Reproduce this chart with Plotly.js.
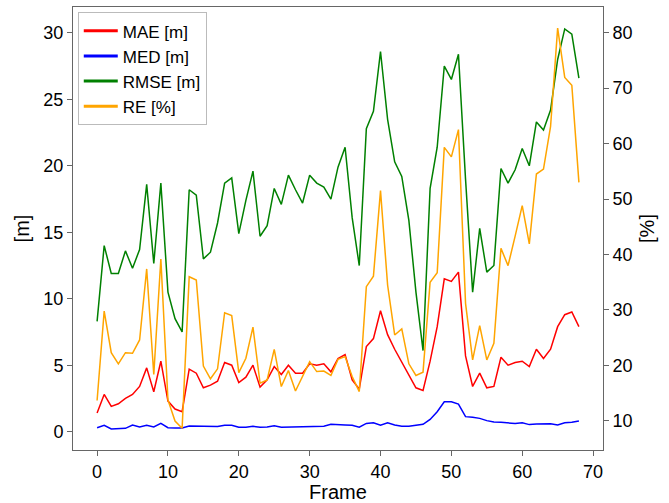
<!DOCTYPE html>
<html>
<head>
<meta charset="utf-8">
<script src="https://cdn.plot.ly/plotly-3.0.1.min.js"></script>
<style>html,body{margin:0;padding:0;background:#fff;}#chart{width:669px;height:503px;}</style>
</head>
<body>
<div id="chart"></div>
<script>
const MAE = [1.4, 2.8, 1.9, 2.1, 2.5, 2.8, 3.4, 4.8, 3.0, 5.3, 2.3, 1.7, 1.5, 4.7, 4.4, 3.3, 3.5, 3.8, 5.2, 5.0,
  3.7, 4.1, 5.0, 3.35, 3.9, 4.9, 4.3, 5.0, 4.4, 4.4, 5.1, 5.0, 5.1, 4.5, 5.5, 5.8, 3.9, 3.2, 6.4, 7.0,
  9.1, 7.3, 6.2, 5.2, 4.3, 3.3, 3.1, 5.3, 7.9, 11.5, 11.3, 12.0, 5.7, 3.4, 4.4, 3.3, 3.4, 5.6, 5.0, 5.2,
  5.3, 4.9, 6.2, 5.5, 6.2, 7.9, 8.8, 9.0, 7.9];
const MED = [0.3, 0.48, 0.2, 0.22, 0.25, 0.5, 0.35, 0.48, 0.35, 0.63, 0.3, 0.28, 0.28, 0.43, 0.42, 0.4, 0.38, 0.38, 0.48, 0.48,
  0.33, 0.33, 0.4, 0.33, 0.35, 0.45, 0.33, 0.35, 0.35, 0.35, 0.38, 0.38, 0.4, 0.55, 0.55, 0.5, 0.48, 0.33, 0.62, 0.67,
  0.48, 0.67, 0.5, 0.4, 0.4, 0.45, 0.55, 0.92, 1.5, 2.25, 2.25, 2.08, 1.13, 1.08, 1.0, 0.83, 0.73, 0.7, 0.65, 0.62,
  0.67, 0.53, 0.58, 0.58, 0.6, 0.5, 0.67, 0.7, 0.8];
const RMSE = [8.3, 14.0, 11.9, 11.9, 13.6, 12.3, 13.7, 18.6, 12.65, 18.7, 10.5, 8.5, 7.5, 18.2, 17.8, 13.0, 13.5, 15.7, 18.7, 19.1,
  14.9, 17.4, 19.6, 14.7, 15.5, 18.3, 17.1, 19.3, 18.2, 17.2, 19.3, 18.7, 18.4, 17.5, 19.9, 21.4, 16.1, 12.5, 22.8, 24.1,
  28.6, 23.5, 20.3, 19.2, 15.9, 10.5, 6.1, 18.3, 21.4, 27.5, 26.5, 28.4, 19.0, 10.5, 15.3, 12.0, 12.5, 19.8, 18.7, 19.7,
  21.3, 20.0, 23.3, 22.7, 24.2, 28.0, 30.3, 29.9, 26.6];
const RE = [13.7, 29.8, 22.3, 20.3, 22.3, 22.2, 24.6, 37.4, 18.4, 39.2, 13.8, 10.0, 8.7, 36.0, 35.4, 19.9, 17.6, 19.4, 29.5, 29.0,
  18.7, 21.3, 26.9, 16.8, 17.4, 22.9, 16.2, 19.1, 15.4, 18.0, 20.7, 18.9, 19.0, 18.2, 21.1, 21.6, 18.0, 15.3, 34.2, 36.1,
  51.5, 34.5, 25.5, 26.6, 20.3, 18.2, 18.8, 35.0, 36.7, 59.3, 57.6, 62.5, 31.2, 21.0, 27.2, 21.0, 24.0, 41.1, 38.0, 43.3,
  48.8, 41.9, 54.5, 55.4, 63.1, 80.8, 71.9, 70.5, 53.0];
const names = ['MAE [m]', 'MED [m]', 'RMSE [m]', 'RE [%]'];
const colors = ['#ff0000', '#0000ff', '#008000', '#ffa500'];
const frames = MAE.map((_, i) => i);

const FONT = "Liberation Sans, Arial, Helvetica, sans-serif";
const LW = 1.5;
const series = [MAE, MED, RMSE, RE];
const traces = series.map((s, i) => ({
  x: frames, y: s, name: names[i], type: 'scatter', mode: 'lines', showlegend: false,
  yaxis: i === 3 ? 'y2' : 'y', line: {color: colors[i], width: LW}
}));
// legend entries with thicker sample lines (as in the reference legend)
names.forEach((n, i) => traces.push({
  x: [null], y: [null], name: n, type: 'scatter', mode: 'lines', showlegend: true,
  yaxis: i === 3 ? 'y2' : 'y', line: {color: colors[i], width: 3}
}));
const axisCommon = {
  showgrid: false, zeroline: false, showline: true, linecolor: '#666', linewidth: 1,
  ticks: 'outside', ticklen: 5, tickcolor: '#666', tickfont: {family: FONT, size: 18, color: '#000'}
};
const layout = {
  width: 669, height: 503,
  margin: {l: 73, r: 66, t: 7, b: 53, pad: 0},
  paper_bgcolor: '#fff', plot_bgcolor: '#fff',
  font: {family: FONT, color: '#000'},
  showlegend: true,
  legend: {x: 0.009, y: 0.988, xanchor: 'left', yanchor: 'top', bgcolor: '#fff', bordercolor: '#bbb', borderwidth: 1,
           font: {family: FONT, size: 17, color: '#000'}, itemwidth: 34, tracegroupgap: 0},
  xaxis: Object.assign({}, axisCommon, {range: [-3.4, 71.4], dtick: 10, tick0: 0, mirror: true,
           title: {text: 'Frame', font: {family: FONT, size: 20}, standoff: 4}}),
  yaxis: Object.assign({}, axisCommon, {range: [-1.38, 31.95], dtick: 5, tick0: 0,
           title: {text: '[m]', font: {family: FONT, size: 20}, standoff: 8}}),
  yaxis2: Object.assign({}, axisCommon, {range: [4.77, 84.6], dtick: 10, tick0: 0, overlaying: 'y', side: 'right',
           title: {text: '[%]', font: {family: FONT, size: 20}, standoff: 8}})
};
Plotly.newPlot('chart', traces, layout, {displayModeBar: false, staticPlot: true});
</script>
</body>
</html>
